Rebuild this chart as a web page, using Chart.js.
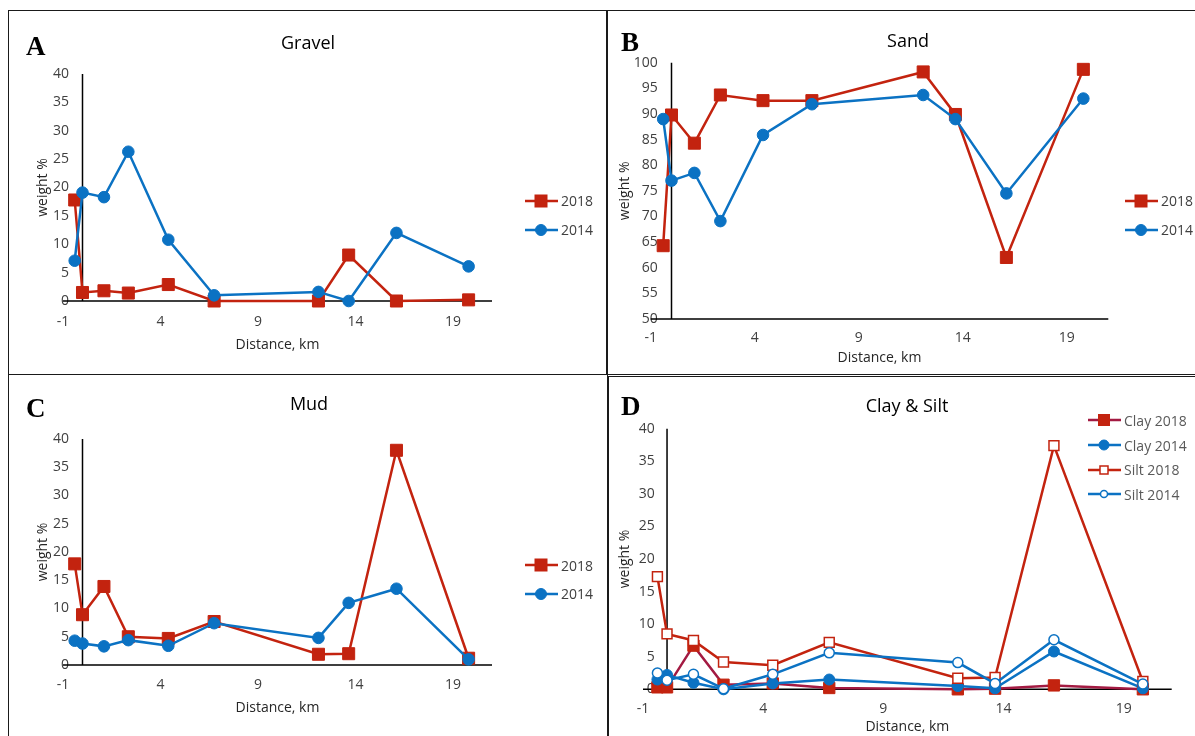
<!DOCTYPE html>
<html>
<head>
<meta charset="utf-8">
<script src="https://cdn.jsdelivr.net/npm/chart.js@4.4.0/dist/chart.umd.min.js"></script>
<style>
  body { margin: 0; width: 1195px; height: 736px; position: relative; overflow: hidden; background: #fff; font-family: "Open Sans", sans-serif; }
  .frame { position: absolute; border: 1.5px solid #1a1a1a; box-sizing: border-box; }
  canvas { position: absolute; }
  .letter { position: absolute; font-family: "Liberation Serif", serif; font-weight: bold; font-size: 27px; line-height: 30px; color: #000; }
  .ttl { position: absolute; font-size: 18px; line-height: 24px; color: #000; transform: translateX(-50%); white-space: nowrap; }
  .legend { position: absolute; font-size: 14px; color: #404040; }
  .legend div { display: flex; align-items: center; white-space: nowrap; }
  .legend svg { margin-right: 3px; }
</style>
</head>
<body>
<div class="frame" style="left:8px;top:10px;width:600px;height:365px"></div>
<div class="frame" style="left:606px;top:10px;width:600px;height:365px"></div>
<div class="frame" style="left:8px;top:374px;width:600px;height:400px"></div>
<div class="frame" style="left:608px;top:376px;width:600px;height:400px"></div>

<canvas id="gravelChart"></canvas>
<canvas id="sandChart"></canvas>
<canvas id="mudChart"></canvas>
<canvas id="claySiltChart"></canvas>

<div class="letter" style="left:26px;top:31px">A</div>
<div class="letter" style="left:621px;top:27px">B</div>
<div class="letter" style="left:26px;top:393px">C</div>
<div class="letter" style="left:621px;top:391px">D</div>

<div class="ttl" style="left:308px;top:30px">Gravel</div>
<div class="ttl" style="left:908px;top:28px">Sand</div>
<div class="ttl" style="left:309px;top:391px">Mud</div>
<div class="ttl" style="left:907px;top:393px">Clay &amp; Silt</div>

<div class="legend" id="legA" style="left:525px;top:186px"></div>
<div class="legend" id="legB" style="left:1125px;top:186px"></div>
<div class="legend" id="legC" style="left:525px;top:551px"></div>
<div class="legend" id="legD" style="left:1088px;top:408px;color:#595959"></div>

<script>
// 거리 (km) - 모든 패널 공통
const distance = [-0.4, 0, 1.1, 2.35, 4.4, 6.75, 12.1, 13.65, 16.1, 19.8];
const xTicks = [-1, 4, 9, 14, 19];

// A) Gravel
const gravel2018 = [17.8, 1.5, 1.8, 1.4, 2.9, 0, 0, 8.1, 0, 0.2];
const gravel2014 = [7.1, 19.1, 18.3, 26.3, 10.8, 1.0, 1.6, 0, 12.0, 6.1];

// B) Sand
const sand2018 = [64.3, 89.8, 84.3, 93.7, 92.6, 92.6, 98.2, 89.9, 62.0, 98.7];
const sand2014 = [89.0, 77.0, 78.5, 69.1, 85.9, 91.9, 93.7, 89.0, 74.5, 93.0];

// C) Mud
const mud2018 = [17.9, 8.9, 13.9, 5.0, 4.7, 7.7, 1.9, 2.0, 38.0, 1.2];
const mud2014 = [4.3, 3.8, 3.3, 4.4, 3.4, 7.4, 4.8, 11.0, 13.5, 1.0];

// D) Clay & Silt
const clay2018 = [0.3, 0.3, 6.7, 0.7, 0.9, 0.2, 0, 0.1, 0.6, 0];
const clay2014 = [1.5, 2.2, 1.0, 0, 0.9, 1.5, 0.5, 0.15, 5.8, 0.15];
const silt2018 = [17.3, 8.5, 7.5, 4.2, 3.7, 7.2, 1.7, 1.8, 37.4, 1.2];
const silt2014 = [2.5, 1.4, 2.3, 0.1, 2.3, 5.6, 4.1, 0.9, 7.6, 0.8];

const RED = '#C3230F';
const BLUE = '#0B72C3';
const MAROON = '#A31A42';
const FONT = 'Open Sans';

// 축선 (x=0 세로선, y=최솟값 가로선)
const axisLines = {
  id: 'axisLines',
  beforeDatasetsDraw(chart) {
    const { ctx, chartArea, scales: { x, y } } = chart;
    const x0 = x.getPixelForValue(0);
    const y0 = y.getPixelForValue(y.min);
    ctx.save();
    ctx.strokeStyle = '#000';
    ctx.lineWidth = 1.5;
    ctx.beginPath();
    ctx.moveTo(x0, chartArea.top);
    ctx.lineTo(x0, y0);
    ctx.moveTo(chartArea.left, y0);
    ctx.lineTo(chartArea.right, y0);
    ctx.stroke();
    ctx.restore();
  }
};

function series(label, values, s) {
  return {
    label,
    data: distance.map((d, i) => ({ x: d, y: values[i] })),
    showLine: true,
    borderColor: s.line,
    borderWidth: 2.5,
    pointStyle: s.shape,
    pointRadius: s.r,
    pointBackgroundColor: s.fill,
    pointBorderColor: s.edge,
    pointBorderWidth: s.bw,
    clip: false
  };
}

function buildChart(id, box, area, yMin, yMax, datasets, txt) {
  const canvas = document.getElementById(id);
  canvas.width = box.w;
  canvas.height = box.h;
  canvas.style.left = box.x + 'px';
  canvas.style.top = box.y + 'px';
  canvas.style.width = box.w + 'px';
  canvas.style.height = box.h + 'px';

  // 나중 계열이 위에 그려지도록
  datasets.forEach((ds, i) => { ds.order = datasets.length - 1 - i; });

  const lh = 14 * 1.2;
  new Chart(canvas.getContext('2d'), {
    type: 'scatter',
    data: { datasets },
    options: {
      responsive: false,
      animation: false,
      layout: { padding: { left: 0, top: area.t - box.y, right: box.x + box.w - area.r, bottom: 0 } },
      plugins: { legend: { display: false }, tooltip: { enabled: false } },
      scales: {
        x: {
          type: 'linear', min: -1, max: 21,
          afterBuildTicks: s => { s.ticks = xTicks.map(v => ({ value: v })); },
          afterFit: s => { s.height = box.y + box.h - area.b; },
          grid: { display: false, drawTicks: false },
          border: { display: false },
          ticks: { padding: txt.xPad, color: '#404040', font: { family: FONT, size: 14 }, maxRotation: 0, autoSkip: false },
          title: { display: true, text: 'Distance, km', color: '#262626', font: { family: FONT, size: 14 },
                   padding: { top: 0, bottom: box.y + box.h - lh / 2 - txt.xTitleY } }
        },
        y: {
          min: yMin, max: yMax,
          afterFit: s => { s.width = area.l - box.x; },
          // 눈금 글자가 그림 영역 안쪽으로 조금 들어가므로 잘리지 않게
          afterUpdate: s => { s._computeLabelArea = () => undefined; },
          grid: { display: false, drawTicks: false },
          border: { display: false },
          ticks: { stepSize: 5, padding: txt.yPad, color: '#404040', font: { family: FONT, size: 14 } },
          title: { display: true, text: 'weight %', color: '#262626', font: { family: FONT, size: 14 },
                   padding: { top: txt.yTitleX - box.x - lh / 2, bottom: 0 } }
        }
      }
    },
    plugins: [axisLines]
  });
}

// 범례 (선 + 마커)
function buildLegend(id, items, rowH) {
  const el = document.getElementById(id);
  items.forEach(it => {
    const row = document.createElement('div');
    row.style.height = rowH + 'px';
    let mark;
    if (it.shape === 'rect') {
      const h = it.size / 2;
      mark = `<rect x="${16 - h}" y="${7 - h}" width="${it.size}" height="${it.size}" fill="${it.fill}" stroke="${it.edge}" stroke-width="${it.bw}"/>`;
    } else {
      mark = `<circle cx="16" cy="7" r="${it.size / 2}" fill="${it.fill}" stroke="${it.edge}" stroke-width="${it.bw}"/>`;
    }
    row.innerHTML = `<svg width="33" height="14"><line x1="0" y1="7" x2="33" y2="7" stroke="${it.line}" stroke-width="2.5"/>${mark}</svg><span>${it.label}</span>`;
    el.appendChild(row);
  });
}

const sq = { line: RED, shape: 'rect', r: 8.5, fill: RED, edge: RED, bw: 1 };
const ci = { line: BLUE, shape: 'circle', r: 5.8, fill: BLUE, edge: BLUE, bw: 1 };

buildChart('gravelChart', { x: 10, y: 12, w: 595, h: 361 }, { l: 63, t: 74, r: 492, b: 301 }, 0, 40,
  [series('2018', gravel2018, sq), series('2014', gravel2014, ci)],
  { xPad: 13, yPad: -6, xTitleY: 345, yTitleX: 43 });

buildChart('sandChart', { x: 610, y: 12, w: 585, h: 362 }, { l: 650.7, t: 62.7, r: 1108.3, b: 319 }, 50, 100,
  [series('2018', sand2018, sq), series('2014', sand2014, ci)],
  { xPad: 11, yPad: -7, xTitleY: 358, yTitleX: 625 });

buildChart('mudChart', { x: 10, y: 377, w: 595, h: 359 }, { l: 63, t: 439, r: 492, b: 665 }, 0, 40,
  [series('2018', mud2018, sq), series('2014', mud2014, ci)],
  { xPad: 12, yPad: -6, xTitleY: 708, yTitleX: 43 });

buildChart('claySiltChart', { x: 611, y: 378, w: 584, h: 358 }, { l: 643, t: 428.7, r: 1171.7, b: 689.3 }, 0, 40,
  [
    series('Clay 2018', clay2018, { line: MAROON, shape: 'rect', r: 8, fill: RED, edge: RED, bw: 1 }),
    series('Clay 2014', clay2014, { line: BLUE, shape: 'circle', r: 5.5, fill: BLUE, edge: BLUE, bw: 1 }),
    series('Silt 2018', silt2018, { line: RED, shape: 'rect', r: 7, fill: '#fff', edge: RED, bw: 1.5 }),
    series('Silt 2014', silt2014, { line: BLUE, shape: 'circle', r: 5, fill: '#fff', edge: BLUE, bw: 1.5 })
  ],
  { xPad: 11.7, yPad: -11.7, xTitleY: 727, yTitleX: 625 });

const legYears = [
  { label: '2018', line: RED, shape: 'rect', size: 12, fill: RED, edge: RED, bw: 1 },
  { label: '2014', line: BLUE, shape: 'circle', size: 11, fill: BLUE, edge: BLUE, bw: 1 }
];
buildLegend('legA', legYears, 29);
buildLegend('legB', legYears, 29);
buildLegend('legC', legYears, 28.5);
buildLegend('legD', [
  { label: 'Clay 2018', line: MAROON, shape: 'rect', size: 11, fill: RED, edge: RED, bw: 1 },
  { label: 'Clay 2014', line: BLUE, shape: 'circle', size: 10, fill: BLUE, edge: BLUE, bw: 1 },
  { label: 'Silt 2018', line: RED, shape: 'rect', size: 8, fill: '#fff', edge: RED, bw: 1.5 },
  { label: 'Silt 2014', line: BLUE, shape: 'circle', size: 7, fill: '#fff', edge: BLUE, bw: 1.5 }
], 24.7);
</script>
</body>
</html>
